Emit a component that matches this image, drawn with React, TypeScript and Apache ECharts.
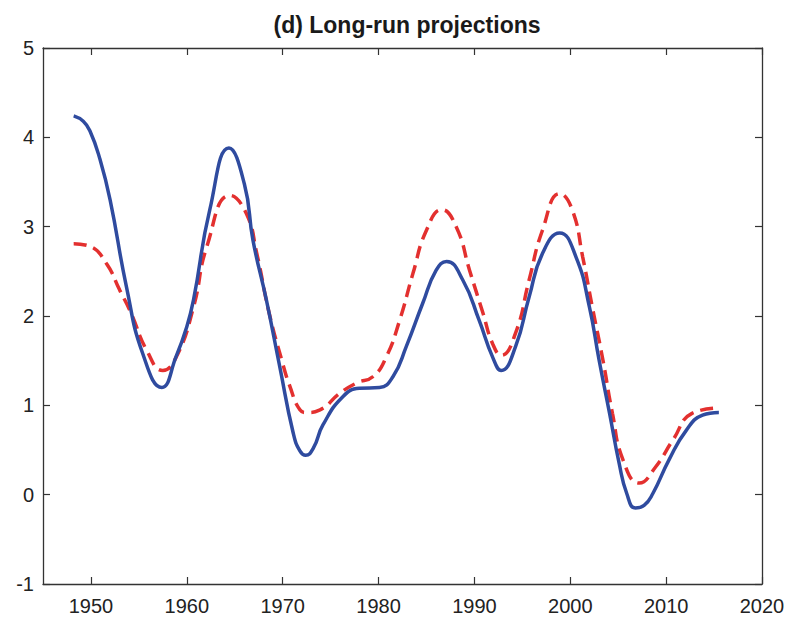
import React, { useEffect, useRef } from "react";
import * as echarts from "echarts";

const titleText = "(d) Long-run projections";
const xTicks = [1950, 1960, 1970, 1980, 1990, 2000, 2010, 2020];

const blueYears = [1948.2, 1949.2, 1949.9, 1950.9, 1952.0, 1953.7, 1955.4, 1957.4, 1958.9, 1960.0, 1960.7, 1962.4, 1964.4, 1966.0, 1966.9, 1968.3, 1969.7, 1971.1, 1971.8, 1972.4, 1973.2, 1974.2, 1976.3, 1978.0, 1980.1, 1981.5, 1982.9, 1984.6, 1986.0, 1987.1, 1988.8, 1990.5, 1991.9, 1992.8, 1994.3, 1995.7, 1997.1, 1998.9, 2000.6, 2002.0, 2003.0, 2004.1, 2005.1, 2005.9, 2006.8, 2007.7, 2008.6, 2010.3, 2012.1, 2013.8, 2015.5];
const blueValues = [4.24, 4.18, 4.07, 3.77, 3.3, 2.33, 1.58, 1.2, 1.55, 1.88, 2.18, 3.19, 3.88, 3.48, 2.85, 2.18, 1.43, 0.69, 0.49, 0.44, 0.52, 0.78, 1.1, 1.19, 1.2, 1.32, 1.66, 2.14, 2.51, 2.61, 2.4, 1.95, 1.54, 1.39, 1.66, 2.21, 2.7, 2.93, 2.66, 2.1, 1.51, 0.91, 0.35, 0.01, -0.15, -0.12, 0.01, 0.39, 0.72, 0.89, 0.92];

const redYears = [1948.2, 1949.9, 1951.6, 1953.0, 1954.2, 1955.8, 1957.5, 1958.9, 1960.7, 1962.1, 1964.5, 1966.2, 1967.3, 1968.6, 1970.0, 1970.7, 1971.8, 1972.5, 1973.9, 1975.9, 1977.7, 1979.4, 1980.8, 1982.2, 1983.6, 1985.0, 1986.6, 1988.1, 1989.5, 1990.9, 1991.9, 1992.8, 1994.3, 1995.7, 1997.1, 1998.9, 2000.2, 2001.3, 2002.3, 2003.4, 2004.4, 2005.5, 2007.2, 2008.9, 2010.7, 2012.7, 2015.5];
const redValues = [2.81, 2.78, 2.59, 2.29, 2.03, 1.62, 1.39, 1.54, 2.1, 2.78, 3.35, 3.15, 2.7, 2.03, 1.47, 1.23, 0.95, 0.92, 0.95, 1.13, 1.25, 1.32, 1.54, 1.95, 2.48, 2.96, 3.19, 3.0, 2.51, 2.03, 1.69, 1.56, 1.81, 2.4, 2.96, 3.37, 3.19, 2.66, 2.1, 1.51, 0.91, 0.39, 0.13, 0.31, 0.61, 0.91, 0.97];

const FONT = "'Liberation Sans', Arial, Helvetica, sans-serif";

export default function App() {
  const ref = useRef<HTMLDivElement>(null);
  useEffect(() => {
    document.body.style.margin = "0";
    if (!ref.current) return;
    const chart = echarts.init(ref.current, null, { renderer: "svg" });
    const axisLine = { show: true, onZero: false, lineStyle: { color: "#333", width: 1.3 } };
    const tick = { show: true, inside: true, length: 7, lineStyle: { color: "#333", width: 1.2 } };
    chart.setOption({
      animation: false,
      backgroundColor: "#fff",
      title: {
        text: titleText,
        left: 402,
        textAlign: "center",
        top: 8,
        textStyle: { fontFamily: FONT, fontSize: 23, fontWeight: "bold", color: "#1a1a1a" },
      },
      grid: { left: 43, right: 35, top: 48, bottom: 40 },
      xAxis: [
        {
          type: "value",
          min: 1945,
          max: 2020,
          position: "bottom",
          axisLine,
          axisTick: { ...tick, customValues: xTicks },
          axisLabel: {
            customValues: xTicks,
            formatter: (v: number) => String(Math.round(v)),
            fontFamily: FONT,
            fontSize: 20,
            color: "#222",
            margin: 12,
          },
          splitLine: { show: false },
        },
        {
          type: "value",
          min: 1945,
          max: 2020,
          position: "top",
          axisLine,
          axisTick: { ...tick, customValues: xTicks },
          axisLabel: { show: false },
          splitLine: { show: false },
        },
      ],
      yAxis: [
        {
          type: "value",
          min: -1,
          max: 5,
          interval: 1,
          position: "left",
          axisLine,
          axisTick: tick,
          axisLabel: { fontFamily: FONT, fontSize: 20, color: "#222", margin: 9 },
          splitLine: { show: false },
        },
        {
          type: "value",
          min: -1,
          max: 5,
          interval: 1,
          position: "right",
          axisLine,
          axisTick: tick,
          axisLabel: { show: false },
          splitLine: { show: false },
        },
      ],
      series: [
        {
          type: "line",
          data: redYears.map((y, i) => [y, redValues[i]]),
          smooth: 0.5,
          showSymbol: false,
          lineStyle: { color: "#e3302f", width: 3.5, type: [13, 7] },
          z: 2,
        },
        {
          type: "line",
          data: blueYears.map((y, i) => [y, blueValues[i]]),
          smooth: 0.5,
          showSymbol: false,
          lineStyle: { color: "#2f4b9f", width: 3.5 },
          z: 3,
        },
      ],
    });
    return () => chart.dispose();
  }, []);
  return <div ref={ref} style={{ position: "absolute", left: 0, top: 0, width: 797, height: 624 }} />;
}
